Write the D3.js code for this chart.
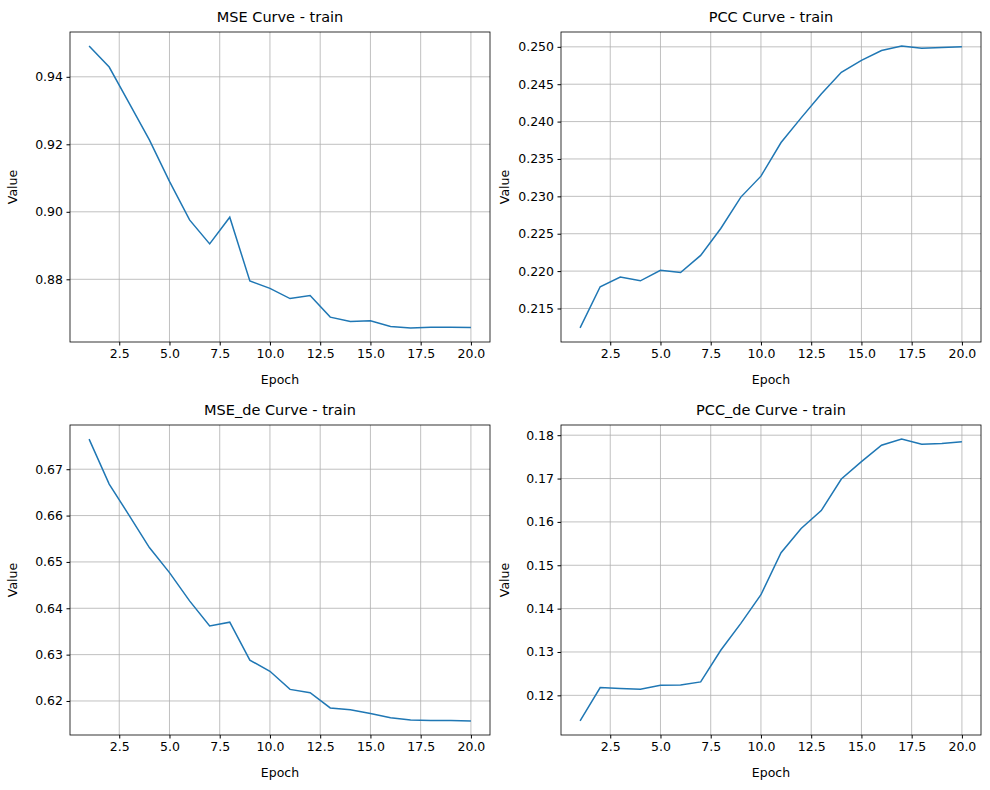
<!DOCTYPE html>
<html><head><meta charset="utf-8">
<script src="https://cdn.jsdelivr.net/npm/d3@7"></script>
<style>body{margin:0;background:#fff}text{font-family:"DejaVu Sans",sans-serif}</style>
</head><body><svg id="c" width="990" height="790"></svg>
<script>
const epochs = d3.range(1, 21);
const mseTrain = [0.9491,0.9429,0.9321,0.9213,0.9090,0.8976,0.8905,0.8984,0.8795,0.8773,0.8743,0.8752,0.8688,0.8675,0.8677,0.8660,0.8656,0.8658,0.8658,0.8657];
const pccTrain = [0.2124,0.2179,0.2192,0.2187,0.2201,0.2198,0.2221,0.2257,0.2299,0.2327,0.2372,0.2405,0.2437,0.2466,0.2482,0.2495,0.2501,0.2498,0.2499,0.2500];
const mseDeTrain = [0.6765,0.6668,0.6600,0.6531,0.6477,0.6416,0.6362,0.6370,0.6288,0.6264,0.6225,0.6218,0.6185,0.6181,0.6173,0.6164,0.6159,0.6158,0.6158,0.6157];
const pccDeTrain = [0.1141,0.1218,0.1216,0.1214,0.1223,0.1224,0.1231,0.1304,0.1366,0.1432,0.1529,0.1585,0.1626,0.1699,0.1739,0.1777,0.1791,0.1779,0.1781,0.1785];
const xTicks = [2.5,5.0,7.5,10.0,12.5,15.0,17.5,20.0];
const panels = [
 {title:"MSE Curve - train", data:mseTrain, ticks:[0.88,0.90,0.92,0.94], fmt:".2f", x:70, y:32},
 {title:"PCC Curve - train", data:pccTrain, ticks:[0.215,0.220,0.225,0.230,0.235,0.240,0.245,0.250], fmt:".3f", x:561, y:32},
 {title:"MSE_de Curve - train", data:mseDeTrain, ticks:[0.62,0.63,0.64,0.65,0.66,0.67], fmt:".2f", x:70, y:425},
 {title:"PCC_de Curve - train", data:pccDeTrain, ticks:[0.12,0.13,0.14,0.15,0.16,0.17,0.18], fmt:".2f", x:561, y:425}
];
const W = 420, H = 310;
const svg = d3.select("#c");
panels.forEach(p => {
  const g = svg.append("g").attr("transform", `translate(${p.x},${p.y})`);
  const x = d3.scaleLinear().domain([1-0.95, 20+0.95]).range([0, W]);
  const [mn, mx] = d3.extent(p.data), pad = (mx-mn)*0.05;
  const y = d3.scaleLinear().domain([mn-pad, mx+pad]).range([H, 0]);
  g.append("g").selectAll("line").data(xTicks).join("line")
    .attr("x1", d=>x(d)).attr("x2", d=>x(d)).attr("y1",0).attr("y2",H).attr("stroke","#b0b0b0").attr("stroke-width",0.8);
  g.append("g").selectAll("line").data(p.ticks).join("line")
    .attr("y1", d=>y(d)).attr("y2", d=>y(d)).attr("x1",0).attr("x2",W).attr("stroke","#b0b0b0").attr("stroke-width",0.8);
  g.append("path").datum(p.data).attr("fill","none").attr("stroke","#1f77b4").attr("stroke-width",1.5)
    .attr("d", d3.line().x((d,i)=>x(epochs[i])).y(d=>y(d)));
  const xa = g.append("g").attr("transform",`translate(0,${H})`)
    .call(d3.axisBottom(x).tickValues(xTicks).tickFormat(d3.format(".1f")).tickSize(3.5).tickPadding(3.5));
  const ya = g.append("g").call(d3.axisLeft(y).tickValues(p.ticks).tickFormat(d3.format(p.fmt)).tickSize(3.5).tickPadding(3.5));
  [xa, ya].forEach(a => { a.select(".domain").remove(); a.selectAll("text").attr("font-size",12.5).attr("font-family","DejaVu Sans").attr("fill","#000"); a.selectAll("line").attr("stroke","#000"); });
  g.append("rect").attr("width",W).attr("height",H).attr("fill","none").attr("stroke","#000").attr("stroke-width",0.8);
  g.append("text").attr("x",W/2).attr("y",-10).attr("text-anchor","middle").attr("font-size",14.5).text(p.title);
  g.append("text").attr("x",W/2).attr("y",H+42).attr("text-anchor","middle").attr("font-size",12.5).text("Epoch");
  g.append("text").attr("transform",`translate(${p.x===70?-53:-52},${H/2}) rotate(-90)`).attr("text-anchor","middle").attr("font-size",12.5).text("Value");
});
</script></body></html>
